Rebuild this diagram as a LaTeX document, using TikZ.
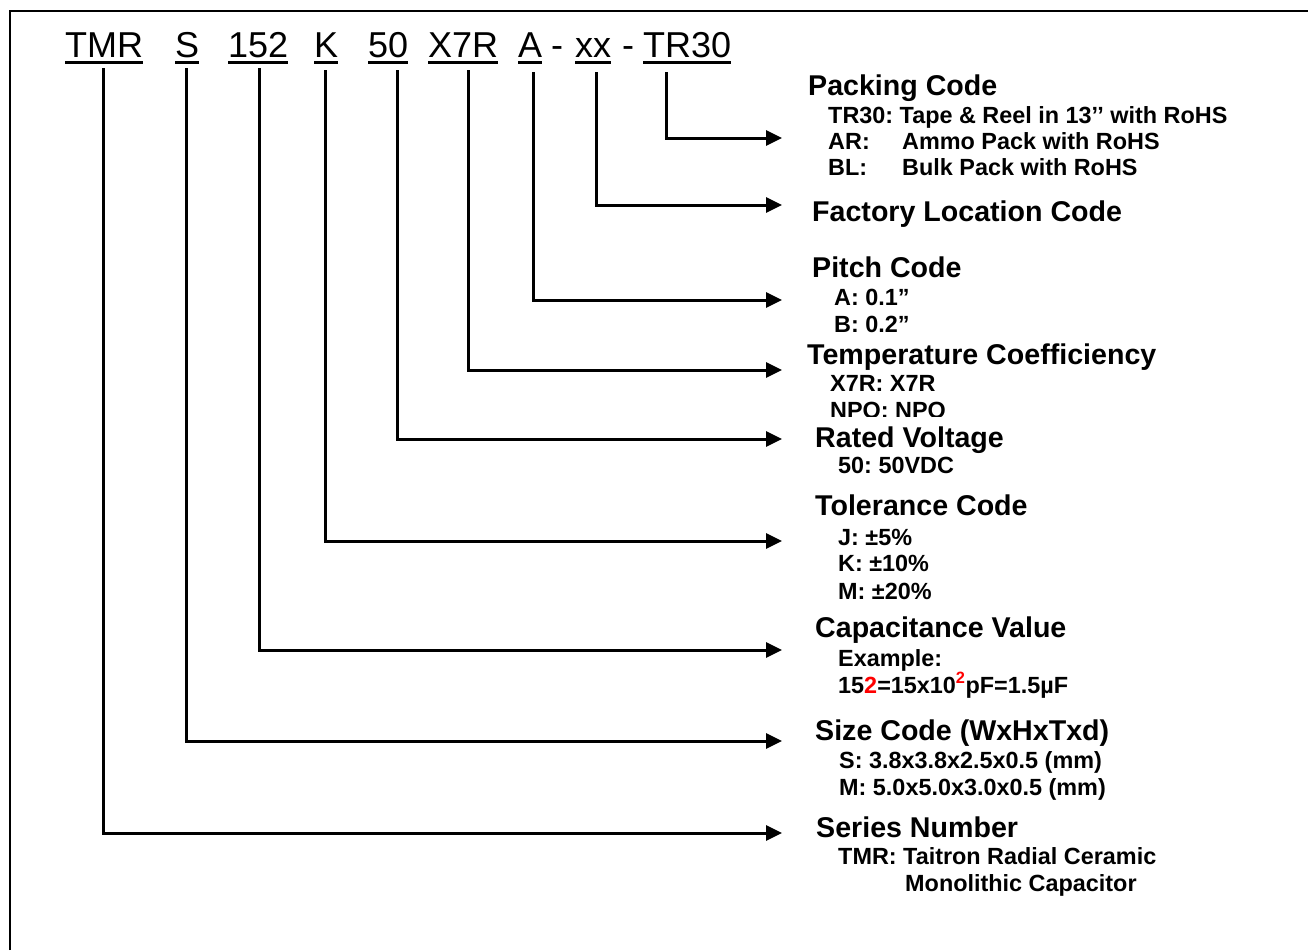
\documentclass[tikz,border=0pt]{standalone}
\usepackage{fontspec}
\setmainfont{Liberation Sans}
\usetikzlibrary{arrows.meta}
\frenchspacing
\begin{document}
\begin{tikzpicture}[x=1pt,y=-1pt,
  code/.style={anchor=base west,inner sep=0pt,font=\fontsize{36}{40}\selectfont},
  head/.style={anchor=base west,inner sep=0pt,font=\fontsize{28.6}{32}\selectfont\bfseries},
  sub/.style={anchor=base west,inner sep=0pt,font=\fontsize{23.4}{27}\selectfont\bfseries},
  ul/.style={line width=3pt},
  conn/.style={line width=3pt,-{Triangle[length=16pt,width=15pt]}},
  frame/.style={line width=2pt}]
\useasboundingbox (0,0) rectangle (1308,950);
\fill[white] (0,0) rectangle (1308,950);
% frame (top and left edges)
\draw[frame] (10,950) -- (10,11) -- (1308,11);
% part code
\node[code] (tmr) at (65,58) {TMR};
\node[code] (s) at (175,58) {S};
\node[code] (cap) at (228,58) {152};
\node[code] (k) at (314,58) {K};
\node[code] (v) at (368,58) {50};
\node[code] (tc) at (428,58) {X7R};
\node[code] (a) at (518,58) {A};
\node[code] (d1) at (551,58) {-};
\node[code] (xx) at (575,58) {xx};
\node[code] (d2) at (622,58) {-};
\node[code] (tr) at (643,58) {TR30};
\foreach \n in {tmr,s,cap,k,v,tc,a,xx,tr}
  \draw[ul] ([yshift=-5pt]\n.base west) -- ([yshift=-5pt]\n.base east);
% connector start points
\coordinate (sTMR) at (103,68);
\coordinate (sS) at (186,68);
\coordinate (sCAP) at (259,68);
\coordinate (sK) at (325,70);
\coordinate (sV) at (397,70);
\coordinate (sTC) at (468,70);
\coordinate (sA) at (533,72);
\coordinate (sXX) at (596,72);
\coordinate (sTR) at (666,72);
% arrow tips
\coordinate (eTR) at (782,138);
\coordinate (eXX) at (782,205);
\coordinate (eA) at (782,300);
\coordinate (eTC) at (782,370);
\coordinate (eV) at (782,439);
\coordinate (eK) at (782,541);
\coordinate (eCAP) at (782,650);
\coordinate (eS) at (782,741);
\coordinate (eTMR) at (782,833);
\draw[conn] (sTR) |- (eTR);
\draw[conn] (sXX) |- (eXX);
\draw[conn] (sA) |- (eA);
\draw[conn] (sTC) |- (eTC);
\draw[conn] (sV) |- (eV);
\draw[conn] (sK) |- (eK);
\draw[conn] (sCAP) |- (eCAP);
\draw[conn] (sS) |- (eS);
\draw[conn] (sTMR) |- (eTMR);
% Packing code
\node[head] (hpack) at (808,95) {Packing Code};
\node[sub] (p1) at (828,123) {TR30: Tape \& Reel in 13’’ with RoHS};
\node[sub] (p2a) at (828,149) {AR:};
\node[sub] (p2b) at (902,149) {Ammo Pack with RoHS};
\node[sub] (p3a) at (828,175) {BL:};
\node[sub] (p3b) at (902,175) {Bulk Pack with RoHS};
% Factory
\node[head] (hfac) at (812,221) {Factory Location Code};
% Pitch
\node[head] (hpitch) at (812,277) {Pitch Code};
\node[sub] (pa) at (834,305) {A: 0.1”};
\node[sub] (pb) at (834,332) {B: 0.2”};
% Temperature
\node[head] (htemp) at (807,364) {Temperature Coefficiency};
\node[sub] (t1) at (830,391) {X7R: X7R};
\begin{scope}
\clip (800,395) rectangle (1000,416);
\node[sub] (t2) at (830,418) {NPO: NPO};
\end{scope}
% Rated voltage
\node[head] (hvol) at (815,447) {Rated Voltage};
\node[sub] (v1) at (838,473) {50: 50VDC};
% Tolerance
\node[head] (htol) at (815,515) {Tolerance Code};
\node[sub] (k1) at (838,545) {J: ±5\%};
\node[sub] (k2) at (838,571) {K: ±10\%};
\node[sub] (k3) at (838,599) {M: ±20\%};
% Capacitance
\node[head] (hcap) at (815,637) {Capacitance Value};
\node[sub] (c1) at (838,666) {Example:};
\node[sub] (c2) at (838,693) {15\textcolor{red}{2}=15x10\textsuperscript{\textcolor{red}{2}}pF=1.5µF};
% Size
\node[head] (hsize) at (815,740) {Size Code (WxHxTxd)};
\node[sub] (s1) at (839,768) {S: 3.8x3.8x2.5x0.5 (mm)};
\node[sub] (s2) at (839,795) {M: 5.0x5.0x3.0x0.5 (mm)};
% Series
\node[head] (hser) at (816,837) {Series Number};
\node[sub] (r1) at (838,864) {TMR: Taitron Radial Ceramic};
\node[sub] (r2) at (905,891) {Monolithic Capacitor};
\end{tikzpicture}
\end{document}
